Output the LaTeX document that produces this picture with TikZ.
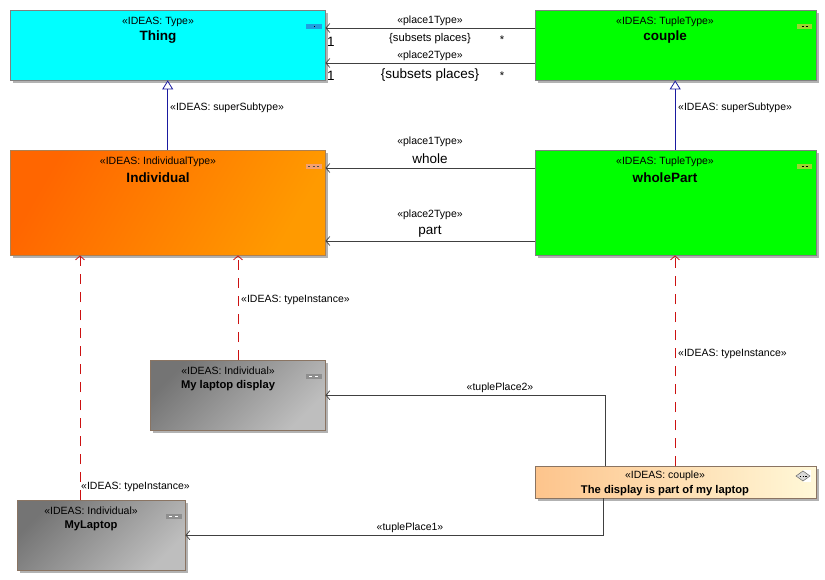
\documentclass[tikz,border=0pt]{standalone}
\usepackage{fontspec}
\setmainfont{Liberation Sans}
\usetikzlibrary{arrows.meta,shadows}
\definecolor{thingc}{HTML}{00FFFF}
\definecolor{greenc}{HTML}{00FF00}
\definecolor{orangeA}{HTML}{FF6600}
\definecolor{orangeB}{HTML}{FF9A00}
\definecolor{grayA}{HTML}{747474}
\definecolor{grayB}{HTML}{BEBEBE}
\definecolor{peachA}{HTML}{FDC48C}
\definecolor{peachB}{HTML}{FFF8D8}
\definecolor{brownb}{HTML}{8A7462}
\definecolor{instred}{HTML}{CC1111}
\definecolor{genblue}{HTML}{1A1AA0}
\definecolor{iconblue}{HTML}{1EA0E0}
\definecolor{icongreen}{HTML}{9CD630}
\definecolor{iconsalmon}{HTML}{F4A070}
\definecolor{icongray}{HTML}{8E8E8E}
\begin{document}
\begin{tikzpicture}[x=1pt,y=-1pt,
  box/.style={rectangle, anchor=north west, inner sep=0pt,
    drop shadow={shadow xshift=2.5pt,shadow yshift=-2.5pt,fill=black!30,opacity=1}},
  stereo/.style={inner sep=0pt, yshift=-1.5pt, font=\fontsize{10.5}{12}\selectfont},
  bigname/.style={inner sep=0pt, yshift=-1.5pt, font=\fontsize{13.5}{15}\selectfont\bfseries},
  smallname/.style={inner sep=0pt, yshift=-1.5pt, font=\fontsize{11.2}{13}\selectfont\bfseries},
  midtext/.style={inner sep=0pt, yshift=-1.5pt, font=\fontsize{11.2}{13}\selectfont},
  bigtext/.style={inner sep=0pt, yshift=-1.5pt, font=\fontsize{13.5}{15}\selectfont},
  assoc/.style={draw=black!75, line width=0.7pt, -{Straight Barb[length=4pt,width=9pt]}},
  gen/.style={draw=genblue, line width=0.8pt, -{Triangle[open,length=9pt,width=11pt,fill=white]}},
  inst/.style={draw=instred, line width=0.8pt, dash pattern=on 10pt off 8pt, -{Straight Barb[length=4pt,width=9pt]}}
]
\useasboundingbox[fill=white] (0,0) rectangle (825,580);

% boxes
\node[box, fill=thingc, draw=gray, minimum width=315pt, minimum height=70pt] (thing) at (10,10) {};
\node[box, fill=greenc, draw=gray, minimum width=281pt, minimum height=70pt] (couple) at (535,10) {};
\node[box, top color=orangeA, bottom color=orangeB, shading angle=60, draw=brown!70!gray, minimum width=315pt, minimum height=105pt] (ind) at (10,150) {};
\node[box, fill=greenc, draw=gray, minimum width=281pt, minimum height=105pt] (wp) at (535,150) {};
\node[box, top color=grayA, bottom color=grayB, shading angle=45, draw=brownb, minimum width=175pt, minimum height=70pt] (disp) at (150,360) {};
\node[box, top color=grayA, bottom color=grayB, shading angle=45, draw=brownb, minimum width=168pt, minimum height=70pt] (laptop) at (17,500) {};
\node[box, left color=peachA, right color=peachB, draw=brownb, minimum width=281pt, minimum height=32pt] (pair) at (535,466) {};

% icons
\fill[iconblue] (306,24) rectangle (322,29);
\fill[black] (313.5,26) rectangle (314.5,27);
\fill[icongreen] (797,24) rectangle (812,29);
\draw[black, line width=0.5pt] (802,26.5) -- (804,26.5) (805.5,26.5) -- (807.5,26.5);
\fill[iconsalmon] (306,164) rectangle (322,169);
\draw[black!70, line width=0.5pt] (308,166.5) -- (310,166.5) (312.5,166.5) -- (314.5,166.5) (317,166.5) -- (319,166.5);
\fill[icongreen] (797,164) rectangle (812,169);
\draw[black, line width=0.5pt] (802,166.5) -- (804,166.5) (805.5,166.5) -- (807.5,166.5);
\fill[icongray] (306,374) rectangle (322,379);
\draw[white, line width=0.6pt] (309,376.5) -- (312,376.5) (315,376.5) -- (318,376.5);
\fill[icongray] (166,514) rectangle (182,519);
\draw[white, line width=0.6pt] (169,516.5) -- (172,516.5) (175,516.5) -- (178,516.5);
\fill[white] (803,470) rectangle (811,482);
\draw[black!60, fill=black!15, line width=0.5pt] (803,471) -- (810,476) -- (803,481) -- (796,476) -- cycle;
\draw[black, line width=0.4pt] (799.5,476) -- (801,476) (802.5,476) -- (804,476) (805,476) -- (806.5,476);

% box texts
\node[stereo] at (158,20) {«IDEAS: Type»};
\node[bigname] at (158,36) {Thing};
\node[stereo] at (665,20) {«IDEAS: TupleType»};
\node[bigname] at (665,36) {couple};
\node[stereo] at (158,160) {«IDEAS: IndividualType»};
\node[bigname] at (158,176) {Individual};
\node[stereo] at (665,160) {«IDEAS: TupleType»};
\node[bigname] at (665,176) {wholePart};
\node[stereo] at (228,369) {«IDEAS: Individual»};
\node[smallname] at (228,384) {My laptop display};
\node[stereo] at (91,509) {«IDEAS: Individual»};
\node[smallname] at (91,524) {MyLaptop};
\node[stereo] at (665,474) {«IDEAS: couple»};
\node[smallname] at (665,489) {The display is part of my laptop};

% connectors
\draw[assoc] ([yshift=-18pt]couple.north west) -- ([yshift=-18pt]thing.north east);
\draw[assoc] ([yshift=-53pt]couple.north west) -- ([yshift=-53pt]thing.north east);
\draw[gen] (ind.north) -- (thing.south);
\draw[gen] ([xshift=-0.5pt]wp.north) -- ([xshift=-0.5pt]couple.south);
\draw[assoc] ([yshift=-18pt]wp.north west) -- ([yshift=-18pt]ind.north east);
\draw[assoc] ([yshift=-91pt]wp.north west) -- ([yshift=-91pt]ind.north east);
\draw[inst] ([xshift=88pt]disp.north west) coordinate (d1) -- (d1 |- ind.south);
\draw[inst] ([xshift=63pt]laptop.north west) coordinate (l1) -- (l1 |- ind.south);
\draw[inst] ([xshift=140pt]pair.north west) coordinate (p1) -- (p1 |- wp.south);
\draw[assoc] ([xshift=70pt]pair.north west) |- (disp.east);
\draw[assoc] ([xshift=68pt]pair.south west) |- (laptop.east);

% connector labels
\node[stereo] at (430,19) {«place1Type»};
\node[midtext] at (430,37) {\{subsets places\}};
\node[bigtext] at (331,40) {1};
\node[midtext] at (502,38) {*};
\node[stereo] at (430,54) {«place2Type»};
\node[bigtext] at (430,74) {\{subsets places\}};
\node[bigtext] at (331,74) {1};
\node[midtext] at (502,74) {*};
\node[stereo, anchor=west] at (170,106) {«IDEAS: superSubtype»};
\node[stereo, anchor=west] at (678,106) {«IDEAS: superSubtype»};
\node[stereo] at (430,140) {«place1Type»};
\node[bigtext] at (430,157) {whole};
\node[stereo] at (430,213) {«place2Type»};
\node[bigtext] at (430,230) {part};
\node[stereo, anchor=west] at (241,298) {«IDEAS: typeInstance»};
\node[stereo, anchor=west] at (678,352) {«IDEAS: typeInstance»};
\node[stereo, anchor=west] at (81,485) {«IDEAS: typeInstance»};
\node[stereo] at (500,386) {«tuplePlace2»};
\node[stereo] at (410,526) {«tuplePlace1»};
\end{tikzpicture}
\end{document}
